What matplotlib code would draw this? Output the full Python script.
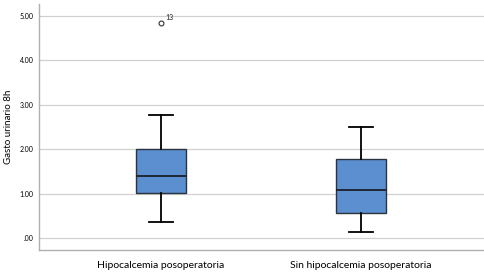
import matplotlib
matplotlib.use('Agg')
import matplotlib.pyplot as plt

groups = ['Hipocalcemia posoperatoria', 'Sin hipocalcemia posoperatoria']
whislo = [0.36, 0.14]
q1 = [1.01, 0.56]
med = [1.40, 1.08]
q3 = [2.00, 1.78]
whishi = [2.78, 2.50]
fliers = [[4.85], []]
flier_ids = [['13'], []]
yticks = [0, 1, 2, 3, 4, 5]
yticklabels = ['.00', '1.00', '2.00', '3.00', '4.00', '5.00']

plt.rcParams['font.family'] = ['Lato', 'DejaVu Sans']

fig = plt.figure(figsize=(4.85, 2.74), dpi=100)
ax = fig.add_axes([0.0804, 0.0876, 0.9196, 0.8974])

stats = []
for i in range(len(groups)):
    stats.append({'whislo': whislo[i], 'q1': q1[i], 'med': med[i],
                  'q3': q3[i], 'whishi': whishi[i], 'fliers': fliers[i]})

ax.bxp(stats, positions=[1, 2], widths=0.25, patch_artist=True,
       boxprops={'facecolor': '#5b8fcf', 'edgecolor': '#2b3340', 'linewidth': 1.0},
       medianprops={'color': '#1a1f2a', 'linewidth': 1.3},
       whiskerprops={'color': 'black', 'linewidth': 1.3},
       capprops={'color': 'black', 'linewidth': 1.3},
       capwidths=0.12,
       flierprops={'marker': 'o', 'markersize': 3.5, 'markerfacecolor': 'white',
                   'markeredgecolor': '#333333', 'markeredgewidth': 0.8})

for i in range(len(groups)):
    for v, lab in zip(fliers[i], flier_ids[i]):
        ax.annotate(lab, (i + 1, v), xytext=(3, 2), textcoords='offset points',
                    fontsize=5, color='#222222')

ax.set_xlim(0.39, 2.62)
ax.set_ylim(-0.27, 5.27)
ax.set_yticks(yticks)
ax.set_yticklabels(yticklabels, fontsize=5)
ax.set_xticks([1, 2])
ax.set_xticklabels(groups, fontsize=7.5)
ax.tick_params(axis='y', length=0, pad=4)
ax.tick_params(axis='x', length=0, pad=8)
ax.yaxis.grid(True, color='#d0d0d0', linewidth=0.9)
ax.set_axisbelow(True)
ax.set_ylabel('Gasto urinario 8h', fontsize=7)
ax.yaxis.set_label_coords(-0.058, 0.5)

for s in ['top', 'right']:
    ax.spines[s].set_visible(False)
for s in ['left', 'bottom']:
    ax.spines[s].set_color('#b0b0b0')
    ax.spines[s].set_linewidth(1.0)

fig.savefig('out.png', dpi=100)
